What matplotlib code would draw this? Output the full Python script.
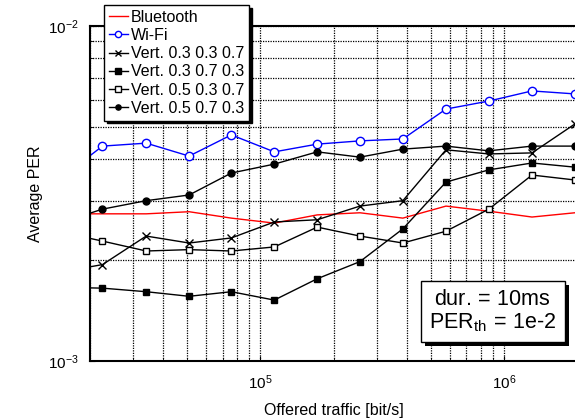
import numpy as np
import matplotlib
matplotlib.use('Agg')
import matplotlib.pyplot as plt
import matplotlib.patheffects as pe

plt.rcParams['font.family'] = ['Liberation Sans', 'DejaVu Sans']
plt.rcParams['mathtext.fontset'] = 'custom'
plt.rcParams['mathtext.rm'] = 'Liberation Sans'
plt.rcParams['mathtext.it'] = 'Liberation Sans:italic'

#---------> data (first point lies left of the visible range)
traffic = [15e3, 22.5e3, 34e3, 51e3, 76e3, 114e3, 171e3, 256e3, 384e3,
           577e3, 865e3, 1.30e6, 1.95e6]
per_bt = [2.75e-3, 2.75e-3, 2.75e-3, 2.79e-3, 2.67e-3, 2.58e-3, 2.73e-3,
          2.77e-3, 2.67e-3, 2.90e-3, 2.80e-3, 2.69e-3, 2.77e-3]
per_wifi = [3.49e-3, 4.38e-3, 4.47e-3, 4.09e-3, 4.73e-3, 4.21e-3, 4.44e-3,
            4.54e-3, 4.60e-3, 5.65e-3, 5.97e-3, 6.40e-3, 6.27e-3]
per_v1 = [1.84e-3, 1.94e-3, 2.36e-3, 2.25e-3, 2.33e-3, 2.60e-3, 2.64e-3,
          2.90e-3, 3.01e-3, 4.27e-3, 4.15e-3, 4.18e-3, 5.10e-3]
per_v2 = [1.66e-3, 1.65e-3, 1.61e-3, 1.56e-3, 1.61e-3, 1.52e-3, 1.76e-3,
          1.98e-3, 2.48e-3, 3.42e-3, 3.72e-3, 3.90e-3, 3.79e-3]
per_v3 = [2.43e-3, 2.28e-3, 2.13e-3, 2.15e-3, 2.13e-3, 2.19e-3, 2.51e-3,
          2.36e-3, 2.25e-3, 2.44e-3, 2.84e-3, 3.59e-3, 3.47e-3]
per_v4 = [2.58e-3, 2.84e-3, 3.01e-3, 3.13e-3, 3.64e-3, 3.87e-3, 4.21e-3,
          4.06e-3, 4.29e-3, 4.38e-3, 4.24e-3, 4.38e-3, 4.38e-3]

fig = plt.figure(figsize=(5.75, 4.2), dpi=100)
ax = fig.add_axes([90/575, 1-361/420, 487.6/575, 335/420])

ax.plot(traffic, per_bt, color='red', lw=1.0, label='Bluetooth')
ax.plot(traffic, per_wifi, color='blue', lw=1.0, marker='o', ms=6,
        mfc='white', mec='blue', mew=1.0, label='Wi-Fi')
ax.plot(traffic, per_v1, color='k', lw=1.0, marker='x', ms=6, mew=1.0,
        label='Vert. 0.3 0.3 0.7')
ax.plot(traffic, per_v2, color='k', lw=1.0, marker='s', ms=5, mfc='k',
        label='Vert. 0.3 0.7 0.3')
ax.plot(traffic, per_v3, color='k', lw=1.0, marker='s', ms=5, mfc='white',
        mew=1.0, label='Vert. 0.5 0.3 0.7')
ax.plot(traffic, per_v4, color='k', lw=1.0, marker='o', ms=5, mfc='k',
        label='Vert. 0.5 0.7 0.3')

ax.set_xscale('log')
ax.set_yscale('log')
ax.set_xlim(2e4, 2e6)
ax.set_ylim(1e-3, 1e-2)

ax.grid(True, which='both', color='k', linestyle=(0, (1, 1)), lw=0.9)
ax.tick_params(which='both', direction='in', labelsize=11)
ax.tick_params(axis='x', pad=9)
ax.tick_params(axis='y', pad=8)
ax.yaxis.set_minor_formatter(matplotlib.ticker.NullFormatter())
ax.xaxis.set_minor_formatter(matplotlib.ticker.NullFormatter())
for s in ax.spines.values():
    s.set_linewidth(1.5)

ax.set_xlabel('Offered traffic [bit/s]', fontsize=11.5, labelpad=8)
ax.set_ylabel('Average PER', fontsize=11.5, labelpad=4)

leg = ax.legend(loc='upper left', bbox_to_anchor=(104/575, 1-5/420),
                bbox_transform=fig.transFigure, fontsize=11.5, handlelength=1.2,
                handletextpad=0.2, labelspacing=0.2, borderpad=0.3,
                borderaxespad=0, fancybox=False, framealpha=1, markerscale=0.75,
                shadow={'color': 'k', 'alpha': 1})
leg.get_frame().set_edgecolor('k')
leg.get_frame().set_linewidth(1.0)
leg.set_zorder(5)

txt = ax.text(0.826, 0.148, 'dur.$\\,=\\,$10ms\nPER$_{\\rm th}$$\\,=\\,$1e-2',
              transform=ax.transAxes, ha='center', va='center', fontsize=15.5,
              linespacing=1.05,
              bbox=dict(boxstyle='square,pad=0.4', fc='white', ec='k', lw=1.0))
txt.get_bbox_patch().set_path_effects([
    pe.SimplePatchShadow(offset=(3, -3), shadow_rgbFace='k', alpha=1),
    pe.Normal()])

fig.savefig('out.png', dpi=100)
